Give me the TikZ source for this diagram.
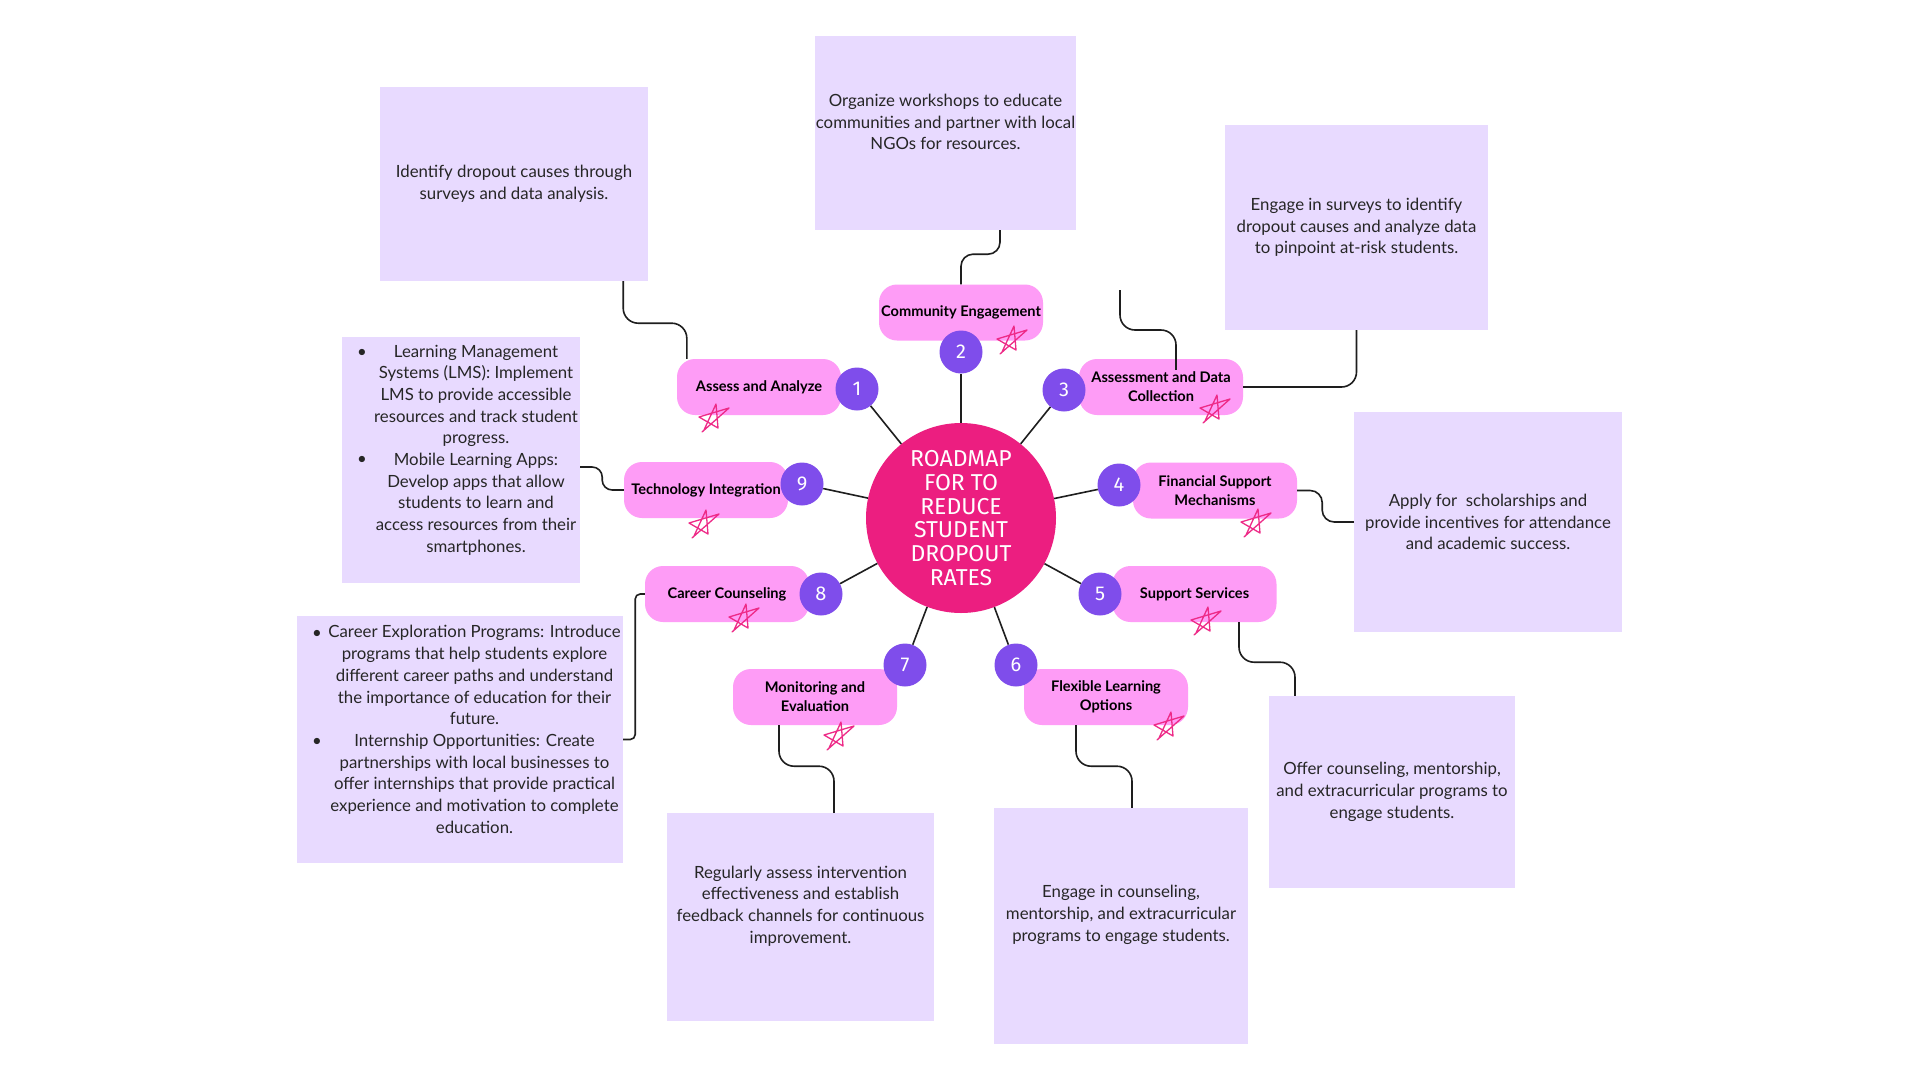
\documentclass[tikz,border=0pt]{standalone}
\usepackage{fontspec}
\setmainfont{Lato}
\newfontfamily\titlefont{Fira Sans}
\definecolor{hubpink}{HTML}{EC1E80}
\definecolor{numpurple}{HTML}{7F4DEB}
\definecolor{boxpink}{HTML}{FE9CF6}
\definecolor{lavender}{HTML}{E8DAFF}
\definecolor{starpink}{HTML}{EE2A87}
\definecolor{bodygray}{HTML}{262626}
\definecolor{linegray}{HTML}{1E1E1E}
\begin{document}
\begin{tikzpicture}[x=1pt,y=-1pt,
  panel/.style={rectangle, fill=lavender, draw=none, inner sep=0},
  desctext/.style={align=center, text=bodygray, inner sep=0, font=\fontsize{16.8}{21.7}\selectfont},
  bullet/.style={text=bodygray, inner sep=0, font=\fontsize{16.8}{21.7}\selectfont},
  lbl/.style={rectangle, rounded corners=18, fill=boxpink, draw=none, minimum width=164, minimum height=56, inner sep=0, align=center, text=black, font=\bfseries\fontsize{14.6}{19}\selectfont},
  num/.style={circle, fill=numpurple, draw=none, minimum size=43, inner sep=0, text=white, font=\titlefont\fontsize{20}{20}\selectfont},
  hub/.style={circle, fill=hubpink, draw=none, minimum size=190, inner sep=0, align=center, text=white, font=\titlefont\fontsize{23}{23.7}\selectfont},
  spoke/.style={draw=linegray, line width=1.6},
  conn/.style={draw=linegray, line width=1.6, rounded corners=15},
  doodle/.pic={\draw[starpink, line width=1.3, line join=round, line cap=round] (-10,13) -- (2,-13) -- (4,11) -- (-15,0) -- (15,-9) -- (-12,15);}
]
\useasboundingbox[fill=white] (0,0) rectangle (1920,1080);

% description panels
\node[panel, minimum width=268, minimum height=194] (A) at (514,184) {};
\node[panel, minimum width=261, minimum height=194] (B) at (945.5,133) {};
\node[panel, minimum width=263, minimum height=205] (C) at (1356.5,227.5) {};
\node[panel, minimum width=238, minimum height=246] (D) at (461,460) {};
\node[panel, minimum width=268, minimum height=220] (E) at (1488,522) {};
\node[panel, minimum width=326, minimum height=247] (F) at (460,739.5) {};
\node[panel, minimum width=246, minimum height=192] (G) at (1392,792) {};
\node[panel, minimum width=267, minimum height=208] (H) at (800.5,917) {};
\node[panel, minimum width=254, minimum height=236] (I) at (1121,926) {};

\node[desctext] (At) at (514,184) {Identify dropout causes through\\surveys and data analysis.};
\node[desctext] (Bt) at (945.5,122) {Organize workshops to educate\\communities and partner with local\\NGOs for resources.};
\node[desctext] (Ct) at (1356.5,227.5) {Engage in surveys to identify\\dropout causes and analyze data\\to pinpoint at-risk students.};
\node[desctext] (Dt) at (476,450) {Learning Management\\Systems (LMS): Implement\\LMS to provide accessible\\resources and track student\\progress.\\Mobile Learning Apps:\\Develop apps that allow\\students to learn and\\access resources from their\\smartphones.};
\node[bullet] (Db1) at (362,353) {•};
\node[bullet] (Db2) at (362,460) {•};
\node[desctext] (Et) at (1488,522) {Apply for~ scholarships and\\provide incentives for attendance\\and academic success.};
\node[desctext] (Ft) at (474.5,729.5) {Career Exploration Programs: Introduce\\programs that help students explore\\different career paths and understand\\the importance of education for their\\future.\\Internship Opportunities: Create\\partnerships with local businesses to\\offer internships that provide practical\\experience and motivation to complete\\education.};
\node[bullet] (Fb1) at (317,634) {•};
\node[bullet] (Fb2) at (317,742) {•};
\node[desctext] (Gt) at (1392,792) {Offer counseling, mentorship,\\and extracurricular programs to\\engage students.};
\node[desctext] (Ht) at (800.5,906) {Regularly assess intervention\\effectiveness and establish\\feedback channels for continuous\\improvement.};
\node[desctext] (It) at (1121,915) {Engage in counseling,\\mentorship, and extracurricular\\programs to engage students.};

% label boxes
\node[lbl] (b1) at (759,387) {Assess and Analyze};
\node[lbl] (b2) at (961,312.5) {Community Engagement};
\node[lbl] (b3) at (1161,387) {Assessment and Data\\Collection};
\node[lbl] (b4) at (1215,490.5) {Financial Support\\Mechanisms};
\node[lbl] (b5) at (1194.5,594) {Support Services};
\node[lbl] (b6) at (1106,697) {Flexible Learning\\Options};
\node[lbl] (b7) at (815,697) {Monitoring and\\Evaluation};
\node[lbl] (b8) at (727,594) {Career Counseling};
\node[lbl] (b9) at (706,490) {Technology Integration};

% hub and numbers
\node[hub] (hub) at (961,518) {ROADMAP\\FOR TO\\REDUCE\\STUDENT\\DROPOUT\\RATES};
\node[num] (n1) at (857,389) {1};
\node[num] (n2) at (961,352) {2};
\node[num] (n3) at (1064,390) {3};
\node[num] (n4) at (1119,485) {4};
\node[num] (n5) at (1100,594) {5};
\node[num] (n6) at (1016,665) {6};
\node[num] (n7) at (905,665) {7};
\node[num] (n8) at (821,594) {8};
\node[num] (n9) at (802,484) {9};

\foreach \k in {1,...,9} {\draw[spoke] (hub) -- (n\k);}

% connectors
\coordinate (d3) at (1120,290);
\draw[conn] ([xshift=-25pt]A.south east) -- ++(0,42) -| ([xshift=10pt]b1.north west);
\draw[conn, rounded corners=12] ([xshift=54.5pt]B.south) -- ++(0,24) -| (b2.north);
\draw[conn] (C.south) |- (b3.east);
\draw[conn] (d3) -- ++(0,40) -| ([xshift=15pt,yshift=-11pt]b3.north);
\draw[conn, rounded corners=12] (b4.east) -- ++(25,0) |- (E.west);
\draw[conn] ([xshift=44.5pt]b5.south) -- ++(0,40) -| ([xshift=-97pt]G.north);
\draw[conn] ([xshift=-30pt]b6.south) -- ++(0,41) -| ([xshift=11pt]I.north);
\draw[conn] ([xshift=-36pt]b7.south) -- ++(0,41) -| ([xshift=33.5pt]H.north);
\draw[conn, rounded corners=5] (F.east) -- ++(12,0) |- (b8.west);
\draw[conn, rounded corners=10] ([yshift=-7pt]D.east) -- ++(22,0) |- (b9.west);

% doodle stars
\pic at (714,417) {doodle};
\pic at (1012,339) {doodle};
\pic at (1215,408) {doodle};
\pic at (1256,522) {doodle};
\pic at (1206,620) {doodle};
\pic at (1169,725) {doodle};
\pic at (839,735) {doodle};
\pic at (744,617) {doodle};
\pic at (704,523) {doodle};
\end{tikzpicture}
\end{document}
